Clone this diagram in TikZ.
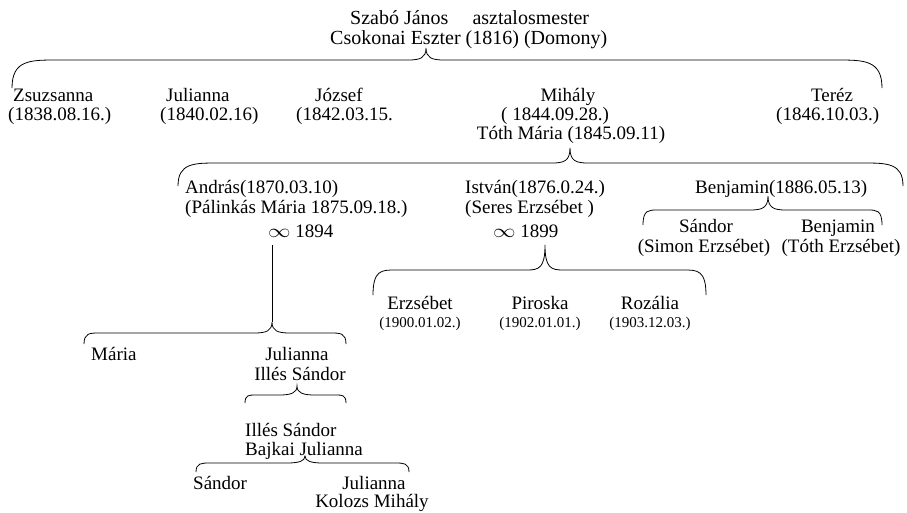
\documentclass[tikz,border=0pt]{standalone}
\usepackage{fontspec}
\setmainfont{Liberation Serif}
\newcommand{\curlybr}[7]{% xl, xt, xr, yend, yhor, ytip, curl
  \draw[brace] (#1,#4) .. controls (#1,#5) and (#1+0.4*#7,#5) .. (#1+#7,#5)
    -- (#2-18,#5) .. controls (#2-6,#5) and (#2,#5-2) .. (#2,#6)
    .. controls (#2,#5-2) and (#2+6,#5) .. (#2+18,#5)
    -- (#3-#7,#5) .. controls (#3-0.4*#7,#5) and (#3,#5) .. (#3,#4);}
\newcommand{\marr}{\scalebox{1.3}[1.1]{$\infty$}}
\begin{document}
\begin{tikzpicture}[x=1pt,y=-1pt,
  txt/.style={anchor=base,inner sep=0pt,font=\fontsize{19}{21}\selectfont},
  txtl/.style={txt,anchor=base west},
  big/.style={txtl,font=\fontsize{20}{22}\selectfont},
  small/.style={anchor=base,inner sep=0pt,font=\fontsize{15}{17}\selectfont},
  brace/.style={draw=black,line width=0.8pt}]
\useasboundingbox (0,0) rectangle (907,512);
\fill[white] (0,0) rectangle (907,512);
% top couple
\node[big] (p1) at (350,24) {Szabó János\hspace{1.2em}asztalosmester};
\node[big] (p2) at (330,44) {Csokonai Eszter (1816) (Domony)};
\curlybr{12}{426}{882}{88}{60}{48}{45}
% row 1
\node[txtl] (zs) at (13,101) {Zsuzsanna};
\node[txtl] (zsd) at (8,120) {(1838.08.16.)};
\node[txtl] (ju) at (166,101) {Julianna};
\node[txtl] (jud) at (160,120) {(1840.02.16)};
\node[txtl] (jo) at (315,101) {József};
\node[txtl] (jod) at (296,120) {(1842.03.15.};
\node[txt] (mi) at (568,101) {Mihály};
\node[txt] (mid) at (555,120) {( 1844.09.28.)};
\node[txt] (mit) at (571,139) {Tóth Mária (1845.09.11)};
\node[txt] (te) at (832,101) {Teréz};
\node[txtl] (ted) at (776,120) {(1846.10.03.)};
% Mihály's children
\curlybr{178}{570}{903}{186}{163}{148}{40}
\node[txtl] (an) at (185,193) {András(1870.03.10)};
\node[txtl] (and) at (185,213) {(Pálinkás Mária 1875.09.18.)};
\node[txtl] (anm) at (268,237) {\marr\ 1894};
\node[txtl] (is) at (465,193) {István(1876.0.24.)};
\node[txtl] (isd) at (465,213) {(Seres Erzsébet )};
\node[txtl] (ism) at (493,237) {\marr\ 1899};
\node[txtl] (be) at (695,193) {Benjamin(1886.05.13)};
% Benjamin's children
\curlybr{643}{768}{882}{225}{210}{196}{14}
\node[txt] (bs) at (706,232) {Sándor};
\node[txt] (bsd) at (704,252) {(Simon Erzsébet)};
\node[txt] (bb) at (838,232) {Benjamin};
\node[txt] (bbd) at (841,252) {(Tóth Erzsébet)};
% István's children
\curlybr{373}{545}{706}{295}{270}{245}{22}
\node[txt] (e1) at (420,309) {Erzsébet};
\node[small] (e1d) at (420,327) {(1900.01.02.)};
\node[txt] (e2) at (540,309) {Piroska};
\node[small] (e2d) at (540,327) {(1902.01.01.)};
\node[txt] (e3) at (650,309) {Rozália};
\node[small] (e3d) at (650,327) {(1903.12.03.)};
% András's children
\coordinate (atop) at (272,245);
\coordinate (abot) at (272,322);
\draw[brace] (atop) -- (abot);
\curlybr{84}{272}{346}{344}{333}{322}{15}
\node[txtl] (ma) at (91,360) {Mária};
\node[txt] (jl) at (297,360) {Julianna};
\node[txt] (jld) at (300,380) {Illés Sándor};
\curlybr{245}{297}{346}{403}{395}{386}{10}
\node[txtl] (il) at (245,436) {Illés Sándor};
\node[txtl] (ild) at (245,455) {Bajkai Julianna};
\curlybr{196}{305}{409}{472}{463}{456}{14}
\node[txtl] (sa) at (193,489) {Sándor};
\node[txt] (jk) at (374,489) {Julianna};
\node[txt] (jkd) at (372,507) {Kolozs Mihály};
\end{tikzpicture}
\end{document}
